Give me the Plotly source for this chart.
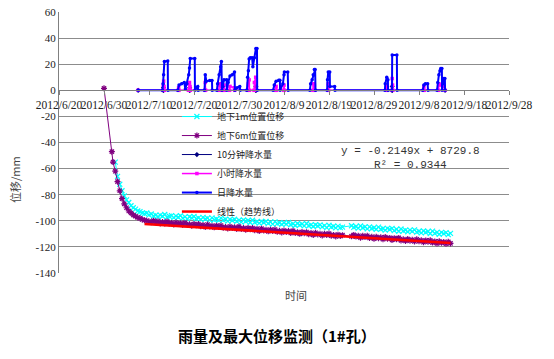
import plotly.graph_objects as go
import pandas as pd

# ---------------- axis ticks ----------------
x_tick_dates = ["2012-06-20", "2012-06-30", "2012-07-10", "2012-07-20", "2012-07-30",
                "2012-08-09", "2012-08-19", "2012-08-29", "2012-09-08", "2012-09-18", "2012-09-28"]
x_tick_labels = ["2012/6/20", "2012/6/30", "2012/7/10", "2012/7/20", "2012/7/30",
                 "2012/8/9", "2012/8/19", "2012/8/29", "2012/9/8", "2012/9/18", "2012/9/28"]
y_tick_vals = [60, 40, 20, 0, -20, -40, -60, -80, -100, -120, -140]
y_tick_labels = ["60", "40", "20", "0", "-20", "-40", "-60", "-80", "-100", "-120", "-140"]

# ---------------- displacement (12-hourly readings) ----------------
# 地下1m: 2012-07-02 12:00 .. 2012-08-22 00:00, then 2012-08-24 00:00 .. 2012-09-15 00:00
cyan_seg1 = [-55, -66, -72, -77, -81, -84, -86, -88.5, -90, -91, -92.5, -93, -94, -94.5, -94, -95.5,
             -94.8, -96.3, -95.6, -96.9, -95.6, -96.5, -95.2, -97.2, -96.5, -96.0,
             -97.6, -96.4, -97.3, -96.1, -97.9, -97.0, -98.5, -96.9, -97.8, -96.7,
             -98.4, -97.7, -98.9, -97.4, -98.6, -97.9, -99.5, -97.8, -99.2, -98.6,
             -99.7, -97.9, -99.5, -98.8, -100.3, -98.9, -99.8, -98.8, -100.5, -99.6,
             -101.0, -99.4, -100.5, -99.8, -101.3, -99.6, -101.2, -100.6, -101.8, -100.4,
             -101.3, -100.4, -102.0, -101.0, -102.6, -100.8, -102.2, -101.6, -102.8, -101.5,
             -102.5, -101.3, -103.0, -102.3, -103.6, -102.1, -103.2, -102.5, -103.9, -102.1,
             -103.8, -103.1, -104.4, -103.0, -104.0, -103.1, -104.7, -103.7, -105.2, -103.4,
             -104.8, -104.2, -105.4, -104.1, -105.2, -104.8]
cyan_seg2 = [-103.8, -105.0, -104.4, -105.6, -104.0, -105.3, -104.6, -106.2, -104.6, -105.9,
             -105.3, -106.5, -104.9, -106.5, -105.9, -107.2, -105.8, -106.7, -105.8, -107.5,
             -106.5, -108.0, -106.3, -107.7, -107.1, -108.4, -107.1, -108.1, -106.9, -108.7,
             -108.0, -109.2, -107.8, -108.9, -108.2, -109.7, -107.9, -109.6, -108.9, -110.3,
             -108.9, -109.8, -109.0, -110.6, -109.6]

# 地下6m: two early readings, then 2012-07-02 00:00 .. 2012-08-22 00:00, 2012-08-24 .. 2012-09-15
purple_lead_time = ["2012-06-30 00:00", "2012-07-01 18:00"]
purple_lead = [1.5, -47]
purple_seg1 = [-55, -62, -70, -77, -83, -87, -90, -92.5, -94, -95.5, -96.5, -97.5, -98, -99, -99.5, -100, -100.5,
               -101.1, -99.9, -101.1, -100.4, -102.1, -101.0, -102.1, -100.5, -102.1, -101.6,
               -102.8, -101.3, -102.5, -101.8, -103.2, -101.6, -103.2, -102.6, -103.8, -102.5,
               -103.4, -102.5, -104.1, -103.2, -104.7, -102.9, -104.4, -103.8, -105.0, -103.7,
               -104.8, -103.6, -105.3, -104.7, -105.9, -104.4, -105.5, -104.9, -106.3, -104.5,
               -106.3, -105.6, -106.9, -105.5, -106.5, -105.6, -107.2, -106.2, -107.8, -106.0,
               -107.4, -106.9, -108.1, -106.8, -107.8, -106.7, -108.4, -107.7, -109.0, -107.5,
               -108.6, -107.9, -109.4, -107.6, -109.3, -108.7, -110.0, -108.6, -109.5, -108.7,
               -110.3, -109.3, -110.8, -109.1, -110.5, -109.9, -111.2, -109.9, -110.9, -109.7,
               -111.5, -110.8, -112.0, -110.6, -111.7, -111.0]
purple_seg2 = [-111.9, -110.8, -112.1, -111.4, -112.9, -111.5, -112.5, -111.4, -113.2, -112.3,
               -113.8, -112.2, -113.4, -112.7, -114.1, -112.5, -113.8, -113.1, -114.7, -113.3,
               -114.2, -113.1, -115.0, -114.1, -115.5, -113.9, -115.2, -114.5, -115.8, -114.2,
               -115.6, -114.9, -116.4, -115.0, -116.0, -114.9, -116.7, -115.8, -117.3, -115.7,
               -116.9, -116.2, -117.6, -116.0, -117.3]

# ---------------- rainfall ----------------
daily_time = [
    "2012-07-07 14:00", "2012-07-13 00:00", "2012-07-13 03:00", "2012-07-13 06:00", "2012-07-13 10:00", "2012-07-14 04:00", "2012-07-14 05:00",
    "2012-07-16 10:00", "2012-07-16 16:00", "2012-07-17 06:00", "2012-07-17 20:00", "2012-07-18 02:00", "2012-07-18 10:00", "2012-07-18 20:00",
    "2012-07-19 00:00", "2012-07-19 04:00", "2012-07-20 04:00", "2012-07-20 05:00", "2012-07-20 10:00", "2012-07-20 20:00", "2012-07-20 22:00",
    "2012-07-22 08:00", "2012-07-22 12:00", "2012-07-22 18:00", "2012-07-23 12:00", "2012-07-24 00:00", "2012-07-24 01:00",
    "2012-07-25 02:00", "2012-07-25 06:00", "2012-07-25 14:00", "2012-07-25 22:00", "2012-07-26 02:00", "2012-07-26 05:00",
    "2012-07-26 10:00", "2012-07-26 16:00", "2012-07-27 06:00", "2012-07-27 07:00",
    "2012-07-27 14:00", "2012-07-28 00:00", "2012-07-28 12:00", "2012-07-29 00:00", "2012-07-29 02:00",
    "2012-07-29 14:00", "2012-07-30 04:00", "2012-07-30 06:00",
    "2012-07-31 18:00", "2012-07-31 22:00", "2012-08-01 02:00", "2012-08-01 06:00", "2012-08-01 12:00", "2012-08-01 22:00",
    "2012-08-02 02:00", "2012-08-02 10:00", "2012-08-02 18:00", "2012-08-03 00:00", "2012-08-03 01:00",
    "2012-08-06 14:00", "2012-08-06 20:00", "2012-08-07 06:00", "2012-08-07 20:00", "2012-08-08 02:00", "2012-08-08 03:00",
    "2012-08-08 18:00", "2012-08-09 00:00", "2012-08-09 02:00", "2012-08-09 20:00", "2012-08-09 22:00",
    "2012-08-14 18:00", "2012-08-14 22:00", "2012-08-15 06:00", "2012-08-15 12:00", "2012-08-15 18:00", "2012-08-15 22:00", "2012-08-16 00:00",
    "2012-08-18 14:00", "2012-08-18 16:00", "2012-08-18 20:00", "2012-08-19 04:00", "2012-08-19 05:00", "2012-08-20 06:00", "2012-08-20 08:00",
    "2012-08-31 10:00", "2012-08-31 12:00", "2012-08-31 20:00", "2012-09-01 02:00", "2012-09-01 03:00",
    "2012-09-02 00:00", "2012-09-02 01:00", "2012-09-03 02:00", "2012-09-03 03:00",
    "2012-09-08 20:00", "2012-09-09 02:00", "2012-09-09 10:00", "2012-09-09 22:00", "2012-09-10 00:00",
    "2012-09-12 00:00", "2012-09-12 04:00", "2012-09-12 10:00", "2012-09-12 16:00", "2012-09-12 20:00", "2012-09-13 02:00",
    "2012-09-13 03:00", "2012-09-13 06:00", "2012-09-13 12:00", "2012-09-13 18:00", "2012-09-13 19:00",
]
daily_mm = [
    0, 0, 5, 12, 22, 22.5, 0,
    0, 4, 5, 6, 1, 5, 12,
    17, 24.4, 24.4, 0, 2, 3, 0,
    0, 12, 7, 7.5, 7.5, 0,
    0, 5, 12, 18, 22, 0,
    3, 8, 8, 0,
    6, 11, 12, 14, 0,
    2, 3, 0,
    0, 10, 15, 24, 25, 25,
    18, 25, 32, 32, 0,
    0, 4, 7, 7.7, 7.7, 0,
    5, 12, 14, 14, 0,
    0, 5, 8, 12, 16, 16, 0,
    0, 8, 14, 14, 3, 3, 0,
    0, 5, 10, 8, 0,
    0, 27, 27, 0,
    0, 4, 5, 5, 0,
    0, 6, 12, 15, 16.7, 16.7,
    0, 5, 9, 9, 0,
]

hourly_time = [
    "2012-07-07 14:00",
    "2012-07-13 02:00", "2012-07-13 04:00", "2012-07-13 06:00", "2012-07-13 08:00", "2012-07-13 10:00",
    "2012-07-16 12:00", "2012-07-16 14:00", "2012-07-16 16:00",
    "2012-07-18 18:00", "2012-07-18 21:00", "2012-07-19 00:00", "2012-07-19 03:00", "2012-07-19 05:00",
    "2012-07-22 10:00", "2012-07-22 12:00", "2012-07-22 14:00",
    "2012-07-25 12:00", "2012-07-25 15:00", "2012-07-25 22:00", "2012-07-26 02:00", "2012-07-26 04:00",
    "2012-07-26 14:00", "2012-07-26 16:00", "2012-07-26 18:00",
    "2012-07-27 22:00", "2012-07-28 00:00", "2012-07-28 23:00", "2012-07-29 01:00",
    "2012-07-31 20:00", "2012-08-01 02:00", "2012-08-01 06:00", "2012-08-01 08:00",
    "2012-08-02 08:00", "2012-08-02 10:00", "2012-08-02 17:00", "2012-08-02 19:00",
    "2012-08-07 04:00", "2012-08-07 06:00", "2012-08-07 08:00",
    "2012-08-08 22:00", "2012-08-09 00:00", "2012-08-09 02:00",
    "2012-08-15 10:00", "2012-08-15 12:00", "2012-08-15 18:00", "2012-08-15 20:00",
    "2012-08-18 18:00", "2012-08-18 20:00", "2012-08-18 22:00",
    "2012-08-31 18:00", "2012-08-31 20:00", "2012-08-31 22:00",
    "2012-09-01 23:00", "2012-09-02 01:00", "2012-09-02 03:00", "2012-09-02 05:00",
    "2012-09-09 00:00", "2012-09-09 02:00", "2012-09-09 04:00",
    "2012-09-12 08:00", "2012-09-12 10:00", "2012-09-12 20:00", "2012-09-13 06:00", "2012-09-13 12:00", "2012-09-13 19:00",
]
hourly_mm = [
    0,
    0, 4, 7, 3, 0,
    0, 2, 0,
    0, 5, 6, 3, 0,
    0, 6, 0,
    0, 4, 5, 3, 0,
    0, 4, 0,
    0, 3, 2, 0,
    0, 5, 8, 0,
    0, 6, 10, 0,
    0, 3, 0,
    0, 4, 0,
    0, 5, 4, 0,
    0, 5, 0,
    0, 3, 0,
    0, 9, 4, 0,
    0, 3, 0,
    0, 5, 4, 3, 4, 0,
]

tenmin_time = ["2012-07-07 14:00", "2012-07-13 04:00", "2012-07-13 05:00", "2012-07-13 06:00",
               "2012-07-19 00:00", "2012-07-19 01:00", "2012-07-19 02:00",
               "2012-08-02 17:00", "2012-08-02 18:00", "2012-08-02 19:00",
               "2012-09-02 00:00", "2012-09-02 01:00", "2012-09-02 02:00", "2012-09-13 19:00"]
tenmin_mm = [0, 0, 2, 0, 0, 2, 0, 0, 3, 0, 0, 3, 0, 0]

# linear trend y = -0.2149x + 8729.8 (endpoints)
trend_time = ["2012-07-09", "2012-09-15"]
trend_val = [-102.4, -117.0]

# ---------------- build x positions ----------------
cyan_time = list(pd.date_range("2012-07-02 12:00", "2012-08-22 00:00", freq="12h")) + \
            list(pd.date_range("2012-08-24 00:00", "2012-09-15 00:00", freq="12h"))
cyan_vals = cyan_seg1 + cyan_seg2
purple_time = list(pd.to_datetime(purple_lead_time)) + \
              list(pd.date_range("2012-07-02 00:00", "2012-08-22 00:00", freq="12h")) + \
              list(pd.date_range("2012-08-24 00:00", "2012-09-15 00:00", freq="12h"))
purple_vals = purple_lead + purple_seg1 + purple_seg2

CJK = "Noto Sans CJK SC"
SERIF = "Liberation Serif"

fig = go.Figure()
fig.add_trace(go.Scatter(x=cyan_time, y=cyan_vals, name="地下1m位置位移", mode="lines+markers",
                         line=dict(color="#00FFFF", width=1),
                         marker=dict(symbol="x-thin", size=5, color="#00FFFF",
                                     line=dict(color="#00FFFF", width=1.2))))
fig.add_trace(go.Scatter(x=purple_time, y=purple_vals, name="地下6m位置位移", mode="lines+markers",
                         line=dict(color="#800080", width=1),
                         marker=dict(symbol="asterisk", size=5, color="#800080",
                                     line=dict(color="#800080", width=1.2))))
fig.add_trace(go.Scatter(x=tenmin_time, y=tenmin_mm, name="10分钟降水量", mode="lines+markers",
                         line=dict(color="#000080", width=1),
                         marker=dict(symbol="diamond", size=4, color="#000080")))
fig.add_trace(go.Scatter(x=hourly_time, y=hourly_mm, name="小时降水量", mode="lines+markers",
                         line=dict(color="#FF00FF", width=1.5),
                         marker=dict(symbol="square", size=3.5, color="#FF00FF")))
fig.add_trace(go.Scatter(x=daily_time, y=daily_mm, name="日降水量", mode="lines+markers",
                         line=dict(color="#0000FF", width=2),
                         marker=dict(symbol="circle", size=3.5, color="#0000FF")))
fig.add_trace(go.Scatter(x=trend_time, y=trend_val, name="线性（趋势线）", mode="lines",
                         line=dict(color="#FF0000", width=2.5)))

fig.update_layout(
    width=554, height=359,
    margin=dict(l=59, r=45, t=12, b=86, autoexpand=False),
    plot_bgcolor="white", paper_bgcolor="white",
    font=dict(family=CJK, color="#222222"),
    showlegend=True,
    legend=dict(x=0.262, y=0.655, xanchor="left", yanchor="top", bgcolor="rgba(255,255,255,0)",
                borderwidth=0, font=dict(family=CJK, size=9, color="#222222"),
                tracegroupgap=0, itemwidth=30),
    xaxis=dict(type="date", range=["2012-06-20", "2012-09-28"], automargin=False,
               tickmode="array", tickvals=x_tick_dates, ticktext=x_tick_labels, tickangle=0,
               ticks="outside", ticklen=4, tickcolor="#808080",
               showline=True, linecolor="#808080", linewidth=1.2,
               anchor="free", position=0.7, showgrid=False, zeroline=False,
               tickfont=dict(family=SERIF, size=11.5, color="#222222")),
    yaxis=dict(range=[-140, 60], automargin=False, tickmode="array", tickvals=y_tick_vals, ticktext=y_tick_labels,
               showgrid=True, gridcolor="#8c8c8c", gridwidth=1,
               showline=True, linecolor="#808080", linewidth=1.2, zeroline=False,
               ticks="", tickfont=dict(family=SERIF, size=11, color="#222222")),
    # white legend panel: hides the gridlines behind the legend, stays under the data
    shapes=[dict(type="rect", xref="paper", yref="paper", x0=0.251, x1=0.54, y0=0.285, y1=0.634,
                 fillcolor="white", line=dict(width=0), layer="between")],
    annotations=[
        dict(text="位移/mm", xref="paper", yref="paper", x=-0.098, y=0.36, textangle=-90,
             xanchor="center", yanchor="middle",
             showarrow=False, font=dict(family=CJK, size=11, color="#444444")),
        dict(text="时间", xref="paper", yref="paper", x=0.527, y=-0.085,
             xanchor="center", yanchor="middle",
             showarrow=False, font=dict(family=CJK, size=11, color="#444444")),
        dict(text="<b>雨量及最大位移监测（1#孔）</b>", xref="paper", yref="paper", x=0.485, y=-0.24,
             xanchor="center", yanchor="middle", showarrow=False,
             font=dict(family=CJK, size=15, color="#000000")),
        dict(text="y = -0.2149x + 8729.8<br>R² = 0.9344", xref="paper", yref="paper",
             x=0.782, y=0.4425, xanchor="center", yanchor="middle", showarrow=False, align="center",
             font=dict(family="Liberation Mono", size=11, color="#333333")),
    ],
)

# remove the default 8px page margin so the 554x359 figure fills the window exactly
fig.write_html("out.html", config={"displayModeBar": False},
               post_script="document.body.style.margin='0';")
